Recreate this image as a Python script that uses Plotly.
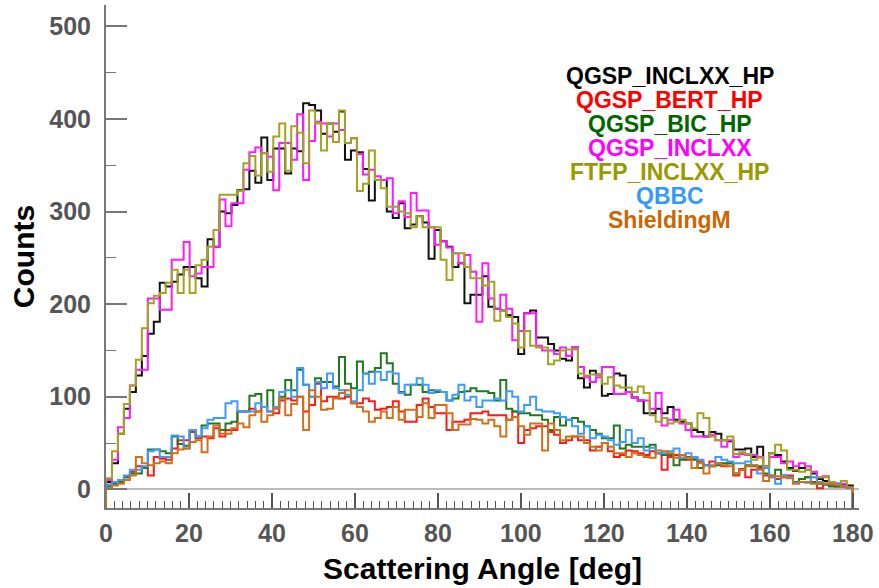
import numpy as np
import plotly.graph_objects as go

# ---- data (125 bins, 0-180 deg) ----
n_bins = 125
x_min, x_max = 0.0, 180.0

qgsp_inclxx_hp = [
    8, 28, 60, 87, 105, 123, 144, 168, 181, 223,
    219, 224, 232, 240, 240, 228, 219, 270, 262, 300,
    298, 307, 323, 324, 344, 331, 380, 334, 368, 368,
    341, 368, 365, 417, 415, 409, 384, 395, 386, 408,
    356, 366, 364, 346, 312, 334, 334, 300, 293, 309,
    282, 286, 295, 288, 249, 280, 268, 262, 240, 244,
    201, 210, 210, 230, 197, 195, 193, 188, 186, 146,
    190, 193, 164, 164, 157, 150, 141, 139, 153, 120,
    110, 128, 124, 101, 103, 125, 123, 105, 99, 96,
    82, 82, 87, 82, 89, 75, 73, 71, 64, 62,
    57, 62, 60, 53, 52, 43, 43, 44, 35, 46,
    25, 39, 37, 30, 23, 20, 23, 21, 17, 11,
    9, 6, 6, 5, 4]

qgsp_bert_hp = [
    5, 6, 8, 13, 19, 25, 23, 15, 35, 33,
    32, 44, 53, 53, 62, 55, 57, 55, 66, 57,
    64, 64, 84, 84, 87, 84, 89, 84, 82, 96,
    98, 96, 100, 84, 91, 114, 95, 100, 100, 98,
    100, 93, 93, 98, 95, 86, 87, 89, 95, 84,
    73, 73, 91, 98, 89, 82, 82, 64, 73, 73,
    75, 82, 82, 84, 80, 80, 80, 75, 84, 50,
    64, 66, 68, 68, 62, 59, 50, 53, 57, 53,
    53, 42, 46, 50, 41, 35, 37, 42, 41, 39,
    37, 41, 39, 21, 35, 37, 34, 32, 34, 30,
    26, 30, 28, 25, 28, 15, 22, 13, 21, 23,
    15, 13, 11, 13, 15, 8, 11, 13, 7, 1,
    6, 5, 3, 3, 2]

qgsp_bic_hp = [
    3, 6, 8, 13, 17, 17, 23, 43, 43, 41,
    39, 57, 49, 47, 64, 57, 69, 71, 71, 64,
    71, 73, 84, 84, 101, 103, 89, 107, 89, 100,
    118, 107, 129, 113, 100, 120, 116, 116, 111, 143,
    114, 109, 138, 125, 127, 131, 147, 136, 114, 105,
    102, 113, 113, 105, 107, 105, 105, 96, 98, 105,
    106, 109, 106, 106, 104, 96, 118, 87, 84, 82,
    82, 80, 80, 75, 64, 78, 69, 75, 77, 73,
    68, 64, 60, 55, 55, 69, 44, 48, 46, 46,
    46, 48, 39, 37, 37, 26, 32, 35, 32, 23,
    26, 25, 26, 28, 28, 17, 21, 26, 25, 25,
    17, 15, 21, 15, 13, 8, 11, 13, 8, 6,
    5, 3, 3, 3, 2]

qgsp_inclxx = [
    10, 32, 67, 77, 112, 129, 129, 206, 206, 194,
    194, 248, 248, 267, 230, 233, 240, 240, 262, 313,
    284, 309, 309, 345, 364, 369, 363, 359, 323, 374,
    374, 356, 405, 334, 376, 397, 395, 381, 395, 388,
    374, 379, 362, 340, 345, 338, 334, 336, 298, 311,
    294, 320, 301, 301, 283, 264, 268, 261, 255, 244,
    253, 235, 181, 244, 206, 195, 210, 195, 161, 171,
    190, 190, 155, 150, 150, 146, 153, 144, 153, 132,
    121, 116, 121, 132, 132, 103, 103, 105, 99, 96,
    96, 87, 104, 69, 75, 86, 71, 64, 57, 57,
    57, 59, 53, 46, 53, 35, 38, 37, 37, 35,
    25, 35, 35, 28, 30, 25, 28, 25, 19, 13,
    14, 6, 6, 6, 2]

ftfp_inclxx_hp = [
    12, 41, 60, 92, 112, 140, 174, 201, 209, 212,
    223, 237, 212, 237, 212, 242, 248, 262, 280, 318,
    318, 318, 322, 352, 360, 339, 363, 343, 381, 395,
    344, 392, 385, 352, 409, 395, 366, 395, 375, 409,
    374, 379, 322, 330, 366, 334, 325, 305, 305, 300,
    298, 283, 295, 283, 283, 283, 248, 226, 255, 255,
    240, 228, 228, 220, 224, 182, 193, 186, 179, 153,
    171, 155, 153, 153, 135, 139, 150, 151, 151, 125,
    123, 124, 124, 114, 121, 112, 110, 110, 105, 111,
    104, 80, 73, 77, 71, 73, 75, 71, 66, 82,
    77, 57, 53, 53, 57, 38, 40, 38, 32, 34,
    25, 39, 48, 42, 21, 21, 19, 21, 13, 13,
    13, 8, 6, 9, 2]

qbbc = [
    5, 8, 10, 15, 21, 21, 25, 41, 43, 35,
    35, 58, 57, 44, 64, 57, 66, 75, 77, 77,
    93, 95, 84, 84, 84, 93, 89, 84, 89, 105,
    107, 100, 131, 113, 100, 116, 109, 125, 109, 107,
    102, 95, 107, 125, 114, 127, 118, 127, 125, 104,
    113, 113, 120, 113, 104, 107, 105, 96, 102, 113,
    96, 100, 89, 96, 96, 98, 96, 106, 100, 84,
    91, 100, 86, 84, 84, 82, 78, 75, 68, 60,
    68, 55, 59, 57, 53, 48, 51, 64, 50, 55,
    42, 45, 39, 39, 41, 44, 34, 39, 35, 32,
    26, 26, 35, 32, 30, 28, 28, 30, 26, 17,
    23, 13, 6, 15, 13, 7, 8, 7, 13, 8,
    6, 6, 6, 3, 1]

shieldingm = [
    1, 4, 6, 10, 15, 35, 28, 26, 28, 30,
    28, 39, 43, 44, 51, 53, 40, 57, 69, 60,
    60, 66, 71, 67, 80, 84, 73, 80, 87, 98,
    80, 92, 100, 64, 107, 100, 86, 87, 98, 104,
    107, 93, 89, 84, 73, 77, 84, 77, 89, 75,
    86, 86, 78, 93, 77, 91, 91, 82, 64, 70,
    70, 76, 75, 71, 75, 68, 57, 75, 78, 68,
    59, 71, 71, 42, 71, 64, 53, 57, 57, 57,
    50, 46, 42, 50, 46, 39, 39, 35, 39, 37,
    35, 34, 42, 41, 39, 34, 37, 34, 23, 28,
    17, 25, 28, 26, 25, 17, 21, 25, 26, 21,
    9, 15, 14, 13, 12, 6, 8, 8, 6, 7,
    6, 6, 5, 3, 2]

series_names = ["QGSP_INCLXX_HP", "QGSP_BERT_HP", "QGSP_BIC_HP", "QGSP_INCLXX",
                "FTFP_INCLXX_HP", "QBBC", "ShieldingM"]
series_values = [qgsp_inclxx_hp, qgsp_bert_hp, qgsp_bic_hp, qgsp_inclxx,
                 ftfp_inclxx_hp, qbbc, shieldingm]
line_colors = ["#111111", "#ff1a1a", "#1f7a1f", "#ff1aff", "#a3a31f", "#3d9bff", "#d2701a"]
text_colors = ["#000000", "#ff0000", "#006600", "#ff00ff", "#999900", "#3399ff", "#cc6600"]

x_ticks = [0, 20, 40, 60, 80, 100, 120, 140, 160, 180]
y_ticks = [0, 100, 200, 300, 400, 500]

Y_RANGE = [-20.2, 523]
X_RANGE = [0, 181.5]

edges = np.linspace(x_min, x_max, n_bins + 1)


def step_path(vals, floor):
    xs = [edges[0]]
    ys = [floor]
    for i, v in enumerate(vals):
        xs += [edges[i], edges[i + 1]]
        ys += [v, v]
    xs.append(edges[-1])
    ys.append(floor)
    return xs, ys


fig = go.Figure()
for name, vals, col in zip(series_names, series_values, line_colors):
    xs, ys = step_path(vals, Y_RANGE[0])
    fig.add_trace(go.Scatter(x=xs, y=ys, mode="lines", name=name,
                             line=dict(color=col, width=2), showlegend=False,
                             cliponaxis=True))

# text legend
leg_x = 0.749
leg_y0 = 0.858
leg_dy = 0.0477
for k, (name, col) in enumerate(zip(series_names, text_colors)):
    fig.add_annotation(x=leg_x, y=leg_y0 - k * leg_dy, xref="paper", yref="paper",
                       text=name, showarrow=False, xanchor="center", yanchor="middle",
                       font=dict(family="Liberation Sans, Arial, sans-serif", size=23,
                                 color=col, weight="bold"))

tick_font = dict(family="Liberation Sans, Arial, sans-serif", size=25, color="#555555",
                 weight="bold")
title_font = dict(family="Liberation Sans, Arial, sans-serif", size=30, color="#000000",
                  weight="bold")

fig.update_layout(
    width=879, height=588,
    margin=dict(l=106, r=15, t=5, b=80),
    plot_bgcolor="white", paper_bgcolor="white",
    xaxis=dict(range=X_RANGE, tickmode="array", tickvals=x_ticks,
               ticktext=[str(v) for v in x_ticks],
               ticks="inside", ticklen=15, tickwidth=1.5, tickcolor="#555555",
               minor=dict(dtick=2, tick0=0, ticks="inside", ticklen=7, tickwidth=1.2,
                          tickcolor="#555555", showgrid=False),
               showline=True, linecolor="#777777", linewidth=2,
               showgrid=False, zeroline=False,
               tickfont=tick_font, ticklabelstandoff=2,
               title=dict(text="Scattering Angle [deg]", font=title_font, standoff=12)),
    yaxis=dict(range=Y_RANGE, tickmode="array", tickvals=y_ticks,
               ticktext=[str(v) for v in y_ticks],
               ticks="inside", ticklen=21, tickwidth=1.5, tickcolor="#777777",
               minor=dict(dtick=50, tick0=0, ticks="inside", ticklen=10, tickwidth=1.2,
                          tickcolor="#777777", showgrid=False),
               showline=True, linecolor="#777777", linewidth=2,
               showgrid=False, zeroline=True, zerolinecolor="#bbbbbb", zerolinewidth=2,
               tickfont=tick_font, ticklabelstandoff=8,
               title=dict(text="Counts", font=title_font, standoff=6)),
)

fig.write_html("out.html")
